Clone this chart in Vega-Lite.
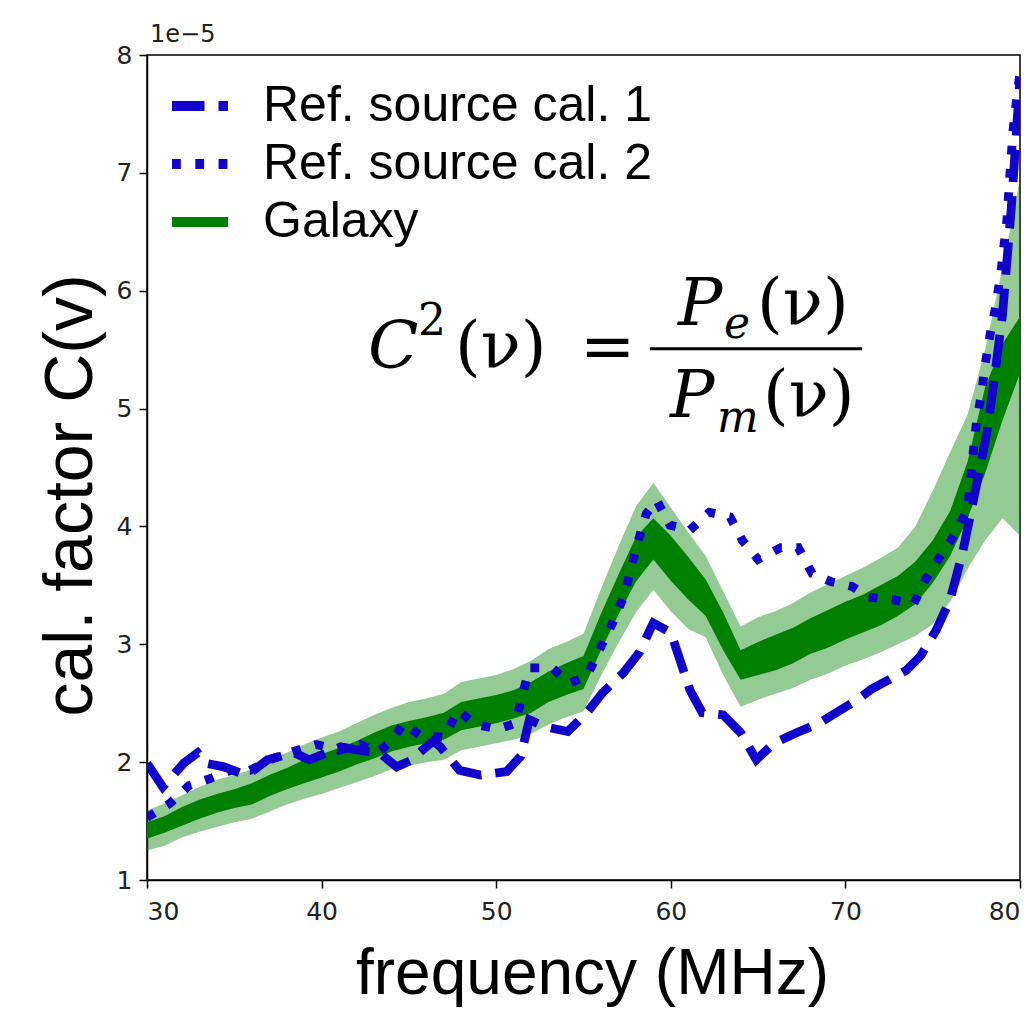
{
  "$schema": "https://vega.github.io/schema/vega-lite/v6.json",
  "width": 873,
  "height": 825,
  "autosize": {"type": "none"},
  "padding": {"left": 147, "top": 55, "right": 4, "bottom": 148},
  "background": "white",
  "config": {
    "view": {"stroke": "black", "strokeWidth": 1.5},
    "axis": {"grid": false, "domainColor": "black", "domainWidth": 1.5, "tickColor": "black", "tickWidth": 1.5, "tickSize": 8, "labelFont": "DejaVu Sans", "labelFontSize": 25, "labelColor": "#222", "titleFont": "Liberation Sans", "titleFontSize": 64, "titleFontWeight": "normal", "titleColor": "black"},
    "legend": {"orient": "none", "legendX": 20, "legendY": 18, "symbolType": "stroke", "symbolSize": 3136, "symbolStrokeWidth": 10, "labelFont": "Liberation Sans", "labelFontSize": 50, "labelColor": "black", "labelOffset": 30, "rowPadding": 0, "labelLimit": 600}
  },
  "datasets": {
    "galaxy": [
      {"f": 30, "lo2": 1.25, "hi2": 1.59, "lo1": 1.35, "hi1": 1.49, "c": 1.42, "s": "Galaxy"},
      {"f": 31, "lo2": 1.29, "hi2": 1.65, "lo1": 1.40, "hi1": 1.54, "c": 1.47, "s": "Galaxy"},
      {"f": 32, "lo2": 1.36, "hi2": 1.72, "lo1": 1.46, "hi1": 1.62, "c": 1.54, "s": "Galaxy"},
      {"f": 33, "lo2": 1.41, "hi2": 1.79, "lo1": 1.52, "hi1": 1.68, "c": 1.60, "s": "Galaxy"},
      {"f": 34, "lo2": 1.45, "hi2": 1.85, "lo1": 1.57, "hi1": 1.73, "c": 1.65, "s": "Galaxy"},
      {"f": 35, "lo2": 1.49, "hi2": 1.89, "lo1": 1.61, "hi1": 1.77, "c": 1.69, "s": "Galaxy"},
      {"f": 36, "lo2": 1.52, "hi2": 1.94, "lo1": 1.64, "hi1": 1.82, "c": 1.73, "s": "Galaxy"},
      {"f": 37, "lo2": 1.58, "hi2": 2.02, "lo1": 1.71, "hi1": 1.89, "c": 1.80, "s": "Galaxy"},
      {"f": 38, "lo2": 1.64, "hi2": 2.08, "lo1": 1.77, "hi1": 1.95, "c": 1.86, "s": "Galaxy"},
      {"f": 39, "lo2": 1.69, "hi2": 2.15, "lo1": 1.82, "hi1": 2.02, "c": 1.92, "s": "Galaxy"},
      {"f": 40, "lo2": 1.73, "hi2": 2.21, "lo1": 1.87, "hi1": 2.07, "c": 1.97, "s": "Galaxy"},
      {"f": 41, "lo2": 1.78, "hi2": 2.26, "lo1": 1.92, "hi1": 2.12, "c": 2.02, "s": "Galaxy"},
      {"f": 42, "lo2": 1.83, "hi2": 2.33, "lo1": 1.98, "hi1": 2.18, "c": 2.08, "s": "Galaxy"},
      {"f": 43, "lo2": 1.88, "hi2": 2.40, "lo1": 2.03, "hi1": 2.25, "c": 2.14, "s": "Galaxy"},
      {"f": 44, "lo2": 1.94, "hi2": 2.46, "lo1": 2.09, "hi1": 2.31, "c": 2.20, "s": "Galaxy"},
      {"f": 45, "lo2": 1.97, "hi2": 2.51, "lo1": 2.13, "hi1": 2.35, "c": 2.24, "s": "Galaxy"},
      {"f": 46, "lo2": 2.00, "hi2": 2.54, "lo1": 2.16, "hi1": 2.38, "c": 2.27, "s": "Galaxy"},
      {"f": 47, "lo2": 2.02, "hi2": 2.58, "lo1": 2.19, "hi1": 2.42, "c": 2.30, "s": "Galaxy"},
      {"f": 48, "lo2": 2.10, "hi2": 2.68, "lo1": 2.27, "hi1": 2.51, "c": 2.39, "s": "Galaxy"},
      {"f": 49, "lo2": 2.13, "hi2": 2.71, "lo1": 2.30, "hi1": 2.54, "c": 2.42, "s": "Galaxy"},
      {"f": 50, "lo2": 2.16, "hi2": 2.74, "lo1": 2.33, "hi1": 2.57, "c": 2.45, "s": "Galaxy"},
      {"f": 51, "lo2": 2.19, "hi2": 2.79, "lo1": 2.37, "hi1": 2.61, "c": 2.49, "s": "Galaxy"},
      {"f": 52, "lo2": 2.24, "hi2": 2.86, "lo1": 2.42, "hi1": 2.68, "c": 2.55, "s": "Galaxy"},
      {"f": 53, "lo2": 2.32, "hi2": 2.96, "lo1": 2.51, "hi1": 2.77, "c": 2.64, "s": "Galaxy"},
      {"f": 54, "lo2": 2.38, "hi2": 3.02, "lo1": 2.57, "hi1": 2.84, "c": 2.70, "s": "Galaxy"},
      {"f": 55, "lo2": 2.43, "hi2": 3.09, "lo1": 2.62, "hi1": 2.90, "c": 2.76, "s": "Galaxy"},
      {"f": 56, "lo2": 2.73, "hi2": 3.47, "lo1": 2.95, "hi1": 3.26, "c": 3.10, "s": "Galaxy"},
      {"f": 57, "lo2": 3.01, "hi2": 3.83, "lo1": 3.25, "hi1": 3.59, "c": 3.42, "s": "Galaxy"},
      {"f": 58, "lo2": 3.27, "hi2": 4.17, "lo1": 3.53, "hi1": 3.91, "c": 3.72, "s": "Galaxy"},
      {"f": 59, "lo2": 3.46, "hi2": 4.37, "lo1": 3.72, "hi1": 4.07, "c": 3.90, "s": "Galaxy"},
      {"f": 60, "lo2": 3.28, "hi2": 4.16, "lo1": 3.54, "hi1": 3.92, "c": 3.73, "s": "Galaxy"},
      {"f": 61, "lo2": 3.13, "hi2": 3.95, "lo1": 3.38, "hi1": 3.74, "c": 3.56, "s": "Galaxy"},
      {"f": 62, "lo2": 3.06, "hi2": 3.75, "lo1": 3.24, "hi1": 3.55, "c": 3.40, "s": "Galaxy"},
      {"f": 63, "lo2": 2.74, "hi2": 3.45, "lo1": 2.95, "hi1": 3.27, "c": 3.11, "s": "Galaxy"},
      {"f": 64, "lo2": 2.47, "hi2": 3.15, "lo1": 2.70, "hi1": 2.95, "c": 2.82, "s": "Galaxy"},
      {"f": 65, "lo2": 2.53, "hi2": 3.23, "lo1": 2.74, "hi1": 3.02, "c": 2.88, "s": "Galaxy"},
      {"f": 66, "lo2": 2.58, "hi2": 3.28, "lo1": 2.78, "hi1": 3.08, "c": 2.93, "s": "Galaxy"},
      {"f": 67, "lo2": 2.63, "hi2": 3.35, "lo1": 2.84, "hi1": 3.14, "c": 2.99, "s": "Galaxy"},
      {"f": 68, "lo2": 2.70, "hi2": 3.44, "lo1": 2.92, "hi1": 3.22, "c": 3.07, "s": "Galaxy"},
      {"f": 69, "lo2": 2.75, "hi2": 3.51, "lo1": 2.97, "hi1": 3.29, "c": 3.13, "s": "Galaxy"},
      {"f": 70, "lo2": 2.82, "hi2": 3.58, "lo1": 3.04, "hi1": 3.36, "c": 3.20, "s": "Galaxy"},
      {"f": 71, "lo2": 2.87, "hi2": 3.65, "lo1": 3.10, "hi1": 3.42, "c": 3.26, "s": "Galaxy"},
      {"f": 72, "lo2": 2.93, "hi2": 3.73, "lo1": 3.16, "hi1": 3.50, "c": 3.33, "s": "Galaxy"},
      {"f": 73, "lo2": 3.00, "hi2": 3.82, "lo1": 3.24, "hi1": 3.58, "c": 3.41, "s": "Galaxy"},
      {"f": 74, "lo2": 3.07, "hi2": 4.00, "lo1": 3.34, "hi1": 3.70, "c": 3.52, "s": "Galaxy"},
      {"f": 75, "lo2": 3.17, "hi2": 4.30, "lo1": 3.52, "hi1": 3.88, "c": 3.70, "s": "Galaxy"},
      {"f": 76, "lo2": 3.36, "hi2": 4.63, "lo1": 3.75, "hi1": 4.13, "c": 3.94, "s": "Galaxy"},
      {"f": 77, "lo2": 3.64, "hi2": 4.95, "lo1": 4.07, "hi1": 4.55, "c": 4.31, "s": "Galaxy"},
      {"f": 78, "lo2": 3.88, "hi2": 5.50, "lo1": 4.45, "hi1": 5.18, "c": 4.82, "s": "Galaxy"},
      {"f": 79, "lo2": 4.07, "hi2": 6.20, "lo1": 4.90, "hi1": 5.55, "c": 5.22, "s": "Galaxy"},
      {"f": 80, "lo2": 3.92, "hi2": 6.95, "lo1": 5.30, "hi1": 5.78, "c": 5.54, "s": "Galaxy"}
    ],
    "refs": [
      {"s": "Ref. source cal. 1", "f": 30.0, "v": 1.99},
      {"s": "Ref. source cal. 1", "f": 30.9, "v": 1.79},
      {"s": "Ref. source cal. 1", "f": 32.1, "v": 1.99},
      {"s": "Ref. source cal. 1", "f": 32.9, "v": 2.08},
      {"s": "Ref. source cal. 1", "f": 33.4, "v": 1.99},
      {"s": "Ref. source cal. 1", "f": 34.4, "v": 1.96},
      {"s": "Ref. source cal. 1", "f": 35.3, "v": 1.91},
      {"s": "Ref. source cal. 1", "f": 36.1, "v": 1.93},
      {"s": "Ref. source cal. 1", "f": 36.9, "v": 2.02},
      {"s": "Ref. source cal. 1", "f": 38.4, "v": 2.08},
      {"s": "Ref. source cal. 1", "f": 39.3, "v": 2.02},
      {"s": "Ref. source cal. 1", "f": 40.3, "v": 2.08},
      {"s": "Ref. source cal. 1", "f": 41.1, "v": 2.13},
      {"s": "Ref. source cal. 1", "f": 42.2, "v": 2.10},
      {"s": "Ref. source cal. 1", "f": 43.3, "v": 2.08},
      {"s": "Ref. source cal. 1", "f": 44.3, "v": 1.96},
      {"s": "Ref. source cal. 1", "f": 45.2, "v": 2.02},
      {"s": "Ref. source cal. 1", "f": 45.6, "v": 2.08},
      {"s": "Ref. source cal. 1", "f": 46.4, "v": 2.18},
      {"s": "Ref. source cal. 1", "f": 46.8, "v": 2.13},
      {"s": "Ref. source cal. 1", "f": 47.9, "v": 1.93},
      {"s": "Ref. source cal. 1", "f": 49.1, "v": 1.89},
      {"s": "Ref. source cal. 1", "f": 50.6, "v": 1.92},
      {"s": "Ref. source cal. 1", "f": 51.4, "v": 2.05},
      {"s": "Ref. source cal. 1", "f": 51.9, "v": 2.36},
      {"s": "Ref. source cal. 1", "f": 52.8, "v": 2.30},
      {"s": "Ref. source cal. 1", "f": 54.1, "v": 2.26},
      {"s": "Ref. source cal. 1", "f": 55.2, "v": 2.42},
      {"s": "Ref. source cal. 1", "f": 56.1, "v": 2.59},
      {"s": "Ref. source cal. 1", "f": 57.3, "v": 2.76},
      {"s": "Ref. source cal. 1", "f": 58.2, "v": 2.93},
      {"s": "Ref. source cal. 1", "f": 58.8, "v": 3.12},
      {"s": "Ref. source cal. 1", "f": 59.0, "v": 3.18},
      {"s": "Ref. source cal. 1", "f": 60.0, "v": 3.10},
      {"s": "Ref. source cal. 1", "f": 61.1, "v": 2.61},
      {"s": "Ref. source cal. 1", "f": 61.8, "v": 2.42},
      {"s": "Ref. source cal. 1", "f": 63.0, "v": 2.40},
      {"s": "Ref. source cal. 1", "f": 64.0, "v": 2.25},
      {"s": "Ref. source cal. 1", "f": 64.9, "v": 2.02},
      {"s": "Ref. source cal. 1", "f": 65.9, "v": 2.16},
      {"s": "Ref. source cal. 1", "f": 67.2, "v": 2.25},
      {"s": "Ref. source cal. 1", "f": 68.5, "v": 2.33},
      {"s": "Ref. source cal. 1", "f": 69.7, "v": 2.44},
      {"s": "Ref. source cal. 1", "f": 70.7, "v": 2.53},
      {"s": "Ref. source cal. 1", "f": 71.5, "v": 2.62},
      {"s": "Ref. source cal. 1", "f": 72.5, "v": 2.70},
      {"s": "Ref. source cal. 1", "f": 73.5, "v": 2.78},
      {"s": "Ref. source cal. 1", "f": 74.3, "v": 2.90},
      {"s": "Ref. source cal. 1", "f": 75.2, "v": 3.12},
      {"s": "Ref. source cal. 1", "f": 76.0, "v": 3.38},
      {"s": "Ref. source cal. 1", "f": 76.7, "v": 3.77},
      {"s": "Ref. source cal. 1", "f": 77.3, "v": 4.20},
      {"s": "Ref. source cal. 1", "f": 78.1, "v": 4.79},
      {"s": "Ref. source cal. 1", "f": 78.5, "v": 5.22},
      {"s": "Ref. source cal. 1", "f": 79.0, "v": 5.80},
      {"s": "Ref. source cal. 1", "f": 79.5, "v": 6.70},
      {"s": "Ref. source cal. 1", "f": 80.0, "v": 7.80},
      {"s": "Ref. source cal. 2", "f": 30.0, "v": 1.53},
      {"s": "Ref. source cal. 2", "f": 31.3, "v": 1.65},
      {"s": "Ref. source cal. 2", "f": 32.4, "v": 1.80},
      {"s": "Ref. source cal. 2", "f": 33.6, "v": 1.86},
      {"s": "Ref. source cal. 2", "f": 34.8, "v": 1.93},
      {"s": "Ref. source cal. 2", "f": 35.9, "v": 1.93},
      {"s": "Ref. source cal. 2", "f": 37.2, "v": 2.03},
      {"s": "Ref. source cal. 2", "f": 38.4, "v": 2.09},
      {"s": "Ref. source cal. 2", "f": 39.7, "v": 2.15},
      {"s": "Ref. source cal. 2", "f": 41.0, "v": 2.10},
      {"s": "Ref. source cal. 2", "f": 42.2, "v": 2.15},
      {"s": "Ref. source cal. 2", "f": 43.2, "v": 2.08},
      {"s": "Ref. source cal. 2", "f": 44.0, "v": 2.18},
      {"s": "Ref. source cal. 2", "f": 44.7, "v": 2.33},
      {"s": "Ref. source cal. 2", "f": 45.6, "v": 2.23},
      {"s": "Ref. source cal. 2", "f": 47.0, "v": 2.21},
      {"s": "Ref. source cal. 2", "f": 47.8, "v": 2.44},
      {"s": "Ref. source cal. 2", "f": 48.8, "v": 2.32},
      {"s": "Ref. source cal. 2", "f": 50.1, "v": 2.28},
      {"s": "Ref. source cal. 2", "f": 51.1, "v": 2.33},
      {"s": "Ref. source cal. 2", "f": 51.5, "v": 2.57},
      {"s": "Ref. source cal. 2", "f": 51.9, "v": 2.80},
      {"s": "Ref. source cal. 2", "f": 53.2, "v": 2.80},
      {"s": "Ref. source cal. 2", "f": 54.2, "v": 2.67},
      {"s": "Ref. source cal. 2", "f": 55.2, "v": 2.73},
      {"s": "Ref. source cal. 2", "f": 55.9, "v": 2.95},
      {"s": "Ref. source cal. 2", "f": 56.6, "v": 3.16},
      {"s": "Ref. source cal. 2", "f": 57.3, "v": 3.40},
      {"s": "Ref. source cal. 2", "f": 58.1, "v": 3.86},
      {"s": "Ref. source cal. 2", "f": 58.6, "v": 4.11},
      {"s": "Ref. source cal. 2", "f": 59.2, "v": 4.22},
      {"s": "Ref. source cal. 2", "f": 59.95, "v": 4.01},
      {"s": "Ref. source cal. 2", "f": 61.1, "v": 3.97},
      {"s": "Ref. source cal. 2", "f": 62.2, "v": 4.12},
      {"s": "Ref. source cal. 2", "f": 63.4, "v": 4.08},
      {"s": "Ref. source cal. 2", "f": 64.1, "v": 3.88},
      {"s": "Ref. source cal. 2", "f": 65.0, "v": 3.72},
      {"s": "Ref. source cal. 2", "f": 66.3, "v": 3.82},
      {"s": "Ref. source cal. 2", "f": 67.3, "v": 3.82},
      {"s": "Ref. source cal. 2", "f": 68.1, "v": 3.60},
      {"s": "Ref. source cal. 2", "f": 69.2, "v": 3.53},
      {"s": "Ref. source cal. 2", "f": 70.4, "v": 3.49},
      {"s": "Ref. source cal. 2", "f": 71.3, "v": 3.40},
      {"s": "Ref. source cal. 2", "f": 72.7, "v": 3.38},
      {"s": "Ref. source cal. 2", "f": 73.9, "v": 3.34},
      {"s": "Ref. source cal. 2", "f": 74.6, "v": 3.55},
      {"s": "Ref. source cal. 2", "f": 75.4, "v": 3.74},
      {"s": "Ref. source cal. 2", "f": 76.3, "v": 3.94},
      {"s": "Ref. source cal. 2", "f": 77.0, "v": 4.15},
      {"s": "Ref. source cal. 2", "f": 77.3, "v": 4.60},
      {"s": "Ref. source cal. 2", "f": 77.5, "v": 4.88},
      {"s": "Ref. source cal. 2", "f": 77.8, "v": 5.13},
      {"s": "Ref. source cal. 2", "f": 78.0, "v": 5.37},
      {"s": "Ref. source cal. 2", "f": 78.3, "v": 5.64},
      {"s": "Ref. source cal. 2", "f": 78.6, "v": 5.86},
      {"s": "Ref. source cal. 2", "f": 78.9, "v": 6.15},
      {"s": "Ref. source cal. 2", "f": 79.25, "v": 6.60},
      {"s": "Ref. source cal. 2", "f": 79.4, "v": 6.94},
      {"s": "Ref. source cal. 2", "f": 79.6, "v": 7.36},
      {"s": "Ref. source cal. 2", "f": 79.8, "v": 7.62},
      {"s": "Ref. source cal. 2", "f": 80.0, "v": 7.85}
    ],
    "formulaItalic": [
      {"t": "C", "f": 42.66, "v": 5.344},
      {"t": "P", "f": 60.41, "v": 5.709},
      {"t": "P", "f": 59.95, "v": 4.929}
    ],
    "formulaUpright": [
      {"t": "(ν)", "f": 47.64, "v": 5.344},
      {"t": "=", "f": 54.8, "v": 5.344},
      {"t": "(ν)", "f": 64.94, "v": 5.709},
      {"t": "(ν)", "f": 65.28, "v": 4.929}
    ],
    "subItalic": [
      {"t": "e", "f": 63.05, "v": 5.599},
      {"t": "m", "f": 62.64, "v": 4.80}
    ],
    "supUpright": [
      {"t": "2", "f": 45.52, "v": 5.624}
    ],
    "offsetLabel": [{"t": "1e−5", "f": 30, "v": 8}],
    "bar": [{"f1": 58.8, "f2": 70.96, "v": 5.508}]
  },
  "layer": [
    {
      "data": {"name": "galaxy"},
      "mark": {"type": "area", "color": "#008000", "opacity": 0.42, "clip": true},
      "encoding": {
        "x": {"field": "f", "type": "quantitative", "scale": {"domain": [30, 80], "nice": false, "zero": false},
              "axis": {"values": [30, 40, 50, 60, 70, 80], "format": "d", "title": "frequency (MHz)", "titleX": 445, "titleY": 113, "titleBaseline": "alphabetic", "titleAnchor": "middle", "labelPadding": 11}},
        "y": {"field": "lo2", "type": "quantitative", "scale": {"domain": [1, 8], "nice": false, "zero": false},
              "axis": {"values": [1, 2, 3, 4, 5, 6, 7, 8], "format": "d", "title": "cal. factor C(v)", "titleFontSize": 68, "titleX": -76, "titleY": 440, "titleBaseline": "middle", "titleAnchor": "middle", "labelPadding": 7}},
        "y2": {"field": "hi2"}
      }
    },
    {
      "data": {"name": "galaxy"},
      "mark": {"type": "area", "color": "#008000", "opacity": 1, "clip": true},
      "encoding": {
        "x": {"field": "f", "type": "quantitative"},
        "y": {"field": "lo1", "type": "quantitative"},
        "y2": {"field": "hi1"}
      }
    },
    {
      "data": {"name": "galaxy"},
      "mark": {"type": "line", "strokeWidth": 8.8, "strokeCap": "butt", "clip": true},
      "encoding": {
        "x": {"field": "f", "type": "quantitative"},
        "y": {"field": "c", "type": "quantitative"},
        "color": {"field": "s", "type": "nominal", "scale": {"domain": ["Ref. source cal. 1", "Ref. source cal. 2", "Galaxy"], "range": ["#1200cc", "#1200cc", "#008000"]}, "legend": {"title": null}},
        "strokeDash": {"field": "s", "type": "nominal", "scale": {"domain": ["Ref. source cal. 1", "Ref. source cal. 2", "Galaxy"], "range": [[32.5, 14], [8.8, 14.5], [1, 0]]}, "legend": {"title": null}}
      }
    },
    {
      "data": {"name": "refs"},
      "mark": {"type": "line", "strokeWidth": 8.8, "strokeCap": "butt", "clip": true},
      "encoding": {
        "x": {"field": "f", "type": "quantitative"},
        "y": {"field": "v", "type": "quantitative"},
        "color": {"field": "s", "type": "nominal"},
        "strokeDash": {"field": "s", "type": "nominal"}
      }
    },
    {
      "data": {"name": "formulaItalic"},
      "mark": {"type": "text", "font": "DejaVu Serif", "fontSize": 66, "fontStyle": "italic", "align": "left", "baseline": "alphabetic", "color": "black"},
      "encoding": {
        "x": {"field": "f", "type": "quantitative"},
        "y": {"field": "v", "type": "quantitative"},
        "text": {"field": "t"}
      }
    },
    {
      "data": {"name": "formulaUpright"},
      "mark": {"type": "text", "font": "DejaVu Serif", "fontSize": 66, "align": "left", "baseline": "alphabetic", "color": "black"},
      "encoding": {
        "x": {"field": "f", "type": "quantitative"},
        "y": {"field": "v", "type": "quantitative"},
        "text": {"field": "t"}
      }
    },
    {
      "data": {"name": "subItalic"},
      "mark": {"type": "text", "font": "DejaVu Serif", "fontSize": 44, "fontStyle": "italic", "align": "left", "baseline": "alphabetic", "color": "black"},
      "encoding": {
        "x": {"field": "f", "type": "quantitative"},
        "y": {"field": "v", "type": "quantitative"},
        "text": {"field": "t"}
      }
    },
    {
      "data": {"name": "supUpright"},
      "mark": {"type": "text", "font": "DejaVu Serif", "fontSize": 44, "align": "left", "baseline": "alphabetic", "color": "black"},
      "encoding": {
        "x": {"field": "f", "type": "quantitative"},
        "y": {"field": "v", "type": "quantitative"},
        "text": {"field": "t"}
      }
    },
    {
      "data": {"name": "offsetLabel"},
      "mark": {"type": "text", "font": "DejaVu Sans", "fontSize": 24, "align": "left", "baseline": "alphabetic", "color": "#222", "dx": 3, "dy": -13},
      "encoding": {
        "x": {"field": "f", "type": "quantitative"},
        "y": {"field": "v", "type": "quantitative"},
        "text": {"field": "t"}
      }
    },
    {
      "data": {"name": "bar"},
      "mark": {"type": "rule", "color": "black", "strokeWidth": 3},
      "encoding": {
        "x": {"field": "f1", "type": "quantitative"},
        "x2": {"field": "f2"},
        "y": {"field": "v", "type": "quantitative"}
      }
    }
  ]
}
